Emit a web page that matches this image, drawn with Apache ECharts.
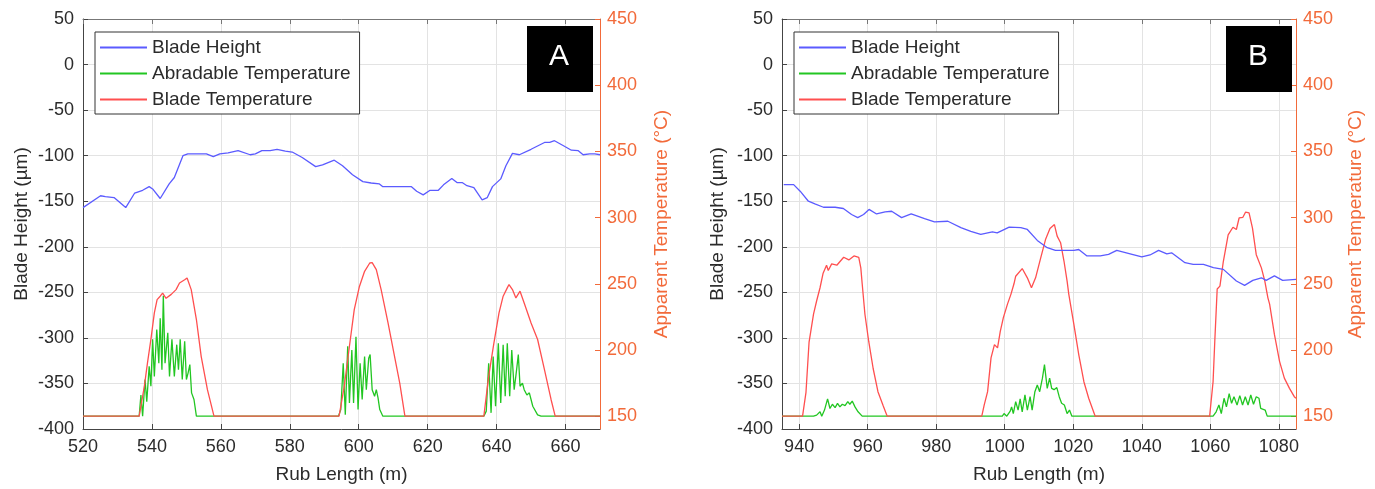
<!DOCTYPE html>
<html>
<head>
<meta charset="utf-8">
<script src="https://cdn.jsdelivr.net/npm/echarts@6/dist/echarts.min.js"></script>
<style>html,body{margin:0;padding:0;background:#fff}#c{width:1375px;height:489px}</style>
</head>
<body>
<div id="c"></div>
<script>
// ---------- Data ----------
const seriesNames = ['Blade Height', 'Abradable Temperature', 'Blade Temperature'];
const heightTicks = [-400, -350, -300, -250, -200, -150, -100, -50, 0, 50];
const tempTicks = [150, 200, 250, 300, 350, 400, 450];
const xTicksA = [520, 540, 560, 580, 600, 620, 640, 660];
const xTicksB = [940, 960, 980, 1000, 1020, 1040, 1060, 1080];

// Panel A: Blade Height (µm)
const aBladeHeight = [[520,-157],[525.1,-144],[526.5,-145],[529,-146],[532.4,-157],[535,-141],[537.3,-138],[539.2,-134],[540.2,-136.5],[542.4,-147],[545,-131],[546.5,-124],[549,-100],[550.4,-98],[555.8,-98],[557.8,-101],[559.7,-98],[562.1,-97],[565,-94.5],[568.5,-99],[570,-98],[571.9,-94.5],[574.3,-94.5],[576.3,-93],[578.7,-95],[580.7,-96],[583.6,-102],[587.5,-112],[589.5,-110],[592.9,-105],[595.3,-111],[598.2,-121],[601.2,-128.5],[603.6,-130],[606,-131],[607,-134],[615.3,-134],[616.8,-139],[618.7,-143],[620.7,-138],[623.1,-138],[624.6,-132],[627,-125],[628.5,-129.5],[630,-129.5],[631.4,-133],[633.4,-135],[635.8,-148.5],[637.3,-146],[638.8,-134],[641.2,-125.5],[642.7,-111],[644.6,-97.5],[646.6,-99],[650,-93],[653.9,-85.5],[655.4,-85.5],[656.8,-83.6],[659.8,-90],[661.7,-94],[663.7,-94.5],[665.1,-99],[667,-98],[668.5,-98],[670,-99]];
// Panel A: Abradable Temperature (°C)
const aAbradableTemp = [[520,150],[536.3,150],[536.8,166],[537.3,150],[538,177.7],[538.5,161],[539.2,187.7],[539.7,172.6],[540.2,208],[540.7,180],[541.4,215.4],[542,190],[542.4,224],[542.9,185],[543.3,241],[543.8,190],[544.6,213],[545.1,180],[545.8,208],[546.5,180],[547.2,204],[547.7,185],[548.2,208],[548.8,177.7],[549.5,206.6],[550,177.7],[550.5,182.7],[551,189],[551.5,167.6],[552.2,162.6],[552.9,150],[594.1,150],[594.8,155],[595.5,190],[596.1,151],[596.8,202.8],[597.3,160],[598,200],[598.5,160],[599.2,210],[599.8,155],[600.4,190],[601,162.6],[601.7,195],[602.2,170],[602.9,193.8],[603.3,196.5],[603.9,170],[604.6,165],[605.1,170],[605.6,163.8],[606.1,155],[607,150],[636.3,150],[637,153.8],[637.7,190],[638.4,152.5],[639,195],[639.7,157.5],[640.5,205],[641.2,160],[641.9,204],[642.5,165],[643.1,205],[643.8,165],[644.4,200],[645.1,170],[645.8,185],[646.3,196.5],[646.8,172.6],[647.5,175],[648,170],[648.8,166],[649.5,167.6],[650.5,157.5],[651.9,151],[652.9,150],[670,150]];
// Panel A: Blade Temperature (°C)
const aBladeTemp = [[520,150],[536.3,150],[537.8,172.6],[538.7,190],[539.7,208],[540.7,228],[541.5,238],[542.4,240.6],[543.1,243],[544.1,239],[545.6,242],[547,245.6],[548,250.6],[549.5,253],[550.2,254.4],[551.4,245.6],[552.9,223],[554.3,195],[556.1,170],[558,150],[594.3,150],[595.8,172.6],[597.3,202.8],[598.7,230.5],[600.2,248],[601.7,259.4],[603.2,265.7],[603.9,266],[605.1,260.7],[606.5,245.6],[608.5,220.4],[610.4,195],[611.9,175],[613.4,150],[636.3,150],[637.7,180],[639.2,205],[640.7,228],[641.9,240.6],[643.1,246.9],[643.6,249.4],[644.6,245.6],[645.6,239.3],[646.8,244.4],[648,235.5],[650,220.4],[651.9,207.9],[653.9,185],[655.8,162.6],[657,150],[670,150]];

// Panel B: Blade Height (µm)
const bBladeHeight = [[935.5,-131.8],[938.4,-131.8],[940.3,-139],[942.7,-150],[944.6,-153],[947.1,-156.6],[950.5,-156.6],[952.9,-158],[955.3,-164.6],[957.1,-168],[958.8,-164.6],[960.4,-159],[962.6,-164],[965.1,-161.7],[967,-161],[969.9,-168],[972.7,-164],[976.6,-169],[979.5,-172.6],[983.4,-172],[987.2,-179],[990.1,-183],[993,-186.5],[996.4,-183.6],[997.8,-184.7],[1001.3,-178.5],[1004.7,-179],[1006.6,-181],[1009.5,-193],[1012.4,-201],[1014.8,-204],[1020.2,-204],[1021.6,-203],[1024,-210],[1027.9,-210],[1030.3,-208.4],[1032.7,-204],[1036.6,-207.7],[1040,-211],[1042.4,-209],[1044.9,-204],[1047.3,-207.7],[1048.7,-206.6],[1052.6,-217.5],[1055,-219.4],[1058,-219.4],[1060.9,-223],[1063.8,-224.8],[1067.6,-237.6],[1070,-242.4],[1072.4,-236.9],[1074.9,-234],[1076.3,-236.9],[1078.7,-232],[1081.1,-236.9],[1085,-235.8]];
// Panel B: Abradable Temperature (°C)
const bAbradableTemp = [[935,150],[944.2,150],[945.1,150.8],[946.1,153.3],[946.6,150],[947.4,154.6],[948.3,163],[949,155.8],[949.7,159],[950.5,156.4],[951.2,159.7],[951.9,157],[952.6,159],[953.4,158],[954.2,161],[954.8,159],[955.5,161.4],[956.3,157],[957.2,153.3],[958.4,150],[999.3,150],[999.8,152],[1000.6,150],[1001.6,153.8],[1002,157],[1002.5,152],[1003.2,161],[1003.9,154.6],[1004.5,163],[1005.1,153.3],[1005.9,166],[1006.6,154.6],[1007.4,164.7],[1008,154.6],[1008.8,168.5],[1009.5,173.6],[1010.2,168.5],[1011,178.7],[1011.6,188.9],[1012.4,171],[1013.1,178.7],[1013.7,171],[1014.4,170],[1015.2,171.6],[1015.9,164.7],[1016.6,159.7],[1017.4,158.4],[1018.2,152],[1018.9,154.6],[1019.6,150],[1060.8,150],[1061.7,153.3],[1062.5,158.4],[1063.2,152],[1064,163.5],[1064.7,157],[1065.5,167],[1066.2,159.7],[1066.9,164.7],[1067.8,158.4],[1068.6,165.5],[1069.4,158.4],[1070.2,164.7],[1071,158.4],[1071.8,166],[1072.6,159],[1073.4,164.7],[1074.2,163.5],[1074.7,155.8],[1076,154.6],[1076.6,150],[1085,150]];
// Panel B: Blade Temperature (°C)
const bBladeTemp = [[935,150],[941,150],[942,168],[942.9,206],[944.2,227],[945.1,237],[946.1,247],[947,258],[948,264],[948.5,260],[949.5,265],[951,264],[953,270],[954.5,268],[956,271],[957.4,270],[958,262],[958.4,250],[959.2,227],[960.3,206.6],[961.6,186],[963,168.5],[964.5,158],[965.7,150],[993.3,150],[994,158.4],[995,168.5],[996,194],[997,204],[997.9,201.6],[998.7,214],[999.6,224.4],[1000.8,234.6],[1001.8,242],[1002.7,250],[1003.2,255.7],[1005.1,261.5],[1006.6,254.5],[1007.8,247],[1009,254.5],[1010.5,269.5],[1011.9,283.4],[1013.2,291.7],[1014.5,294.7],[1015.3,286],[1016.3,281],[1017.3,267],[1018.2,252],[1018.7,242],[1020.2,219],[1021.6,196.5],[1023.1,176],[1024.5,163.5],[1026.4,150],[1059.8,150],[1060.8,176],[1061.3,206.6],[1062,246],[1062.8,248.2],[1063.8,267],[1065.2,287],[1066.6,292.7],[1067.6,291],[1068.4,299.7],[1069.5,300.2],[1070.3,304.2],[1071.3,303.5],[1072.3,292],[1073.4,272],[1074.9,262],[1075.9,252],[1076.8,239.4],[1077.3,234.6],[1078.7,211.7],[1080.2,191.4],[1081.6,178.7],[1083.1,171],[1084.5,164.7],[1085,163.5]];

// ---------- Styling ----------
const FONT = 'Liberation Sans, Arial, sans-serif';
const TXT = '#2b2b2b';
const ORANGE = '#f26a3a';
const BLUE = '#5b5bff';
const GREEN = '#22c622';
const RED = '#ff4f4f';
const GRIDC = '#e3e3e3';
const plain = v => String(v);

function bottomX(gridIndex, min, max, ticks, useInterval) {
  const ax = {
    type: 'value', gridIndex, position: 'bottom', min, max,
    name: 'Rub Length (m)', nameLocation: 'middle', nameGap: 36,
    nameTextStyle: { color: TXT, fontSize: 19, fontFamily: FONT },
    axisLine: { show: true, onZero: false, lineStyle: { color: '#444', width: 1 } },
    axisTick: { show: true, inside: true, length: 5, lineStyle: { color: '#444' }, customValues: ticks },
    axisLabel: { color: TXT, fontSize: 18, fontFamily: FONT, margin: 9, customValues: ticks, formatter: plain },
    splitLine: { show: useInterval, lineStyle: { color: GRIDC } }
  };
  if (useInterval) ax.interval = 20;
  return ax;
}
function topX(gridIndex, min, max, ticks) {
  return {
    type: 'value', gridIndex, position: 'top', min, max,
    axisLine: { show: true, onZero: false, lineStyle: { color: '#777', width: 1 } },
    axisTick: { show: true, inside: true, length: 5, lineStyle: { color: '#777' }, customValues: ticks },
    axisLabel: { show: false },
    splitLine: { show: false }
  };
}
function leftY(gridIndex, nameGap) {
  return {
    type: 'value', gridIndex, position: 'left', min: -400, max: 50, interval: 50,
    name: 'Blade Height (µm)', nameLocation: 'middle', nameGap,
    nameTextStyle: { color: TXT, fontSize: 19, fontFamily: FONT },
    axisLine: { show: true, onZero: false, lineStyle: { color: '#444' } },
    axisTick: { show: true, inside: true, length: 5, lineStyle: { color: '#444' } },
    axisLabel: { color: TXT, fontSize: 18, fontFamily: FONT, margin: 9, formatter: plain },
    splitLine: { show: true, lineStyle: { color: GRIDC } }
  };
}
function rightY(gridIndex, nameGap) {
  return {
    type: 'value', gridIndex, position: 'right', min: 140.3, max: 450,
    name: 'Apparent Temperature (°C)', nameLocation: 'middle', nameGap,
    nameTextStyle: { color: ORANGE, fontSize: 19, fontFamily: FONT },
    axisLine: { show: true, onZero: false, lineStyle: { color: ORANGE } },
    axisTick: { show: true, inside: true, length: 5, lineStyle: { color: ORANGE }, customValues: tempTicks },
    axisLabel: { color: ORANGE, fontSize: 18, fontFamily: FONT, margin: 7, customValues: tempTicks, formatter: plain },
    splitLine: { show: false }
  };
}
function line(name, data, color, xi, yi, z) {
  return {
    name, type: 'line', data, xAxisIndex: xi, yAxisIndex: yi,
    symbol: 'none', showSymbol: false, animation: false, z,
    lineStyle: { color, width: 1.3 }, itemStyle: { color }
  };
}
function legend(left) {
  return {
    data: seriesNames, orient: 'vertical', left, top: 32, z: 20,
    padding: [6, 9, 5, 5], itemGap: 7, itemWidth: 47, itemHeight: 2, icon: 'rect',
    backgroundColor: '#fff', borderColor: '#333', borderWidth: 1,
    textStyle: { color: TXT, fontSize: 19, fontFamily: FONT },
    selectedMode: false
  };
}
function labelBox(x, text) {
  return [
    { type: 'rect', left: x, top: 26, shape: { width: 66, height: 66 }, style: { fill: '#000' }, z: 100 },
    { type: 'text', left: x + 22, top: 42, style: { text, fill: '#fff', font: '30px ' + FONT }, z: 101 }
  ];
}

const chart = echarts.init(document.getElementById('c'), null, { renderer: 'canvas' });
chart.setOption({
  animation: false,
  backgroundColor: '#fff',
  grid: [
    { left: 83, top: 19, width: 517, height: 410 },
    { left: 782, top: 19, width: 514, height: 410 }
  ],
  xAxis: [
    bottomX(0, 520, 670, xTicksA, true),
    topX(0, 520, 670, xTicksA),
    bottomX(1, 935, 1085, xTicksB, false),
    topX(1, 935, 1085, xTicksB)
  ],
  yAxis: [ leftY(0, 52), rightY(0, 52), leftY(1, 55), rightY(1, 50) ],
  legend: [ legend(95), legend(794) ],
  graphic: [ ...labelBox(527, 'A'), ...labelBox(1226, 'B') ],
  series: [
    {
      type: 'line', data: [], xAxisIndex: 2, yAxisIndex: 2, silent: true, z: 0,
      markLine: {
        silent: true, symbol: 'none', animation: false, label: { show: false }, z: 0,
        lineStyle: { color: GRIDC, type: 'solid', width: 1 },
        data: xTicksB.map(v => ({ xAxis: v }))
      }
    },
    line('Abradable Temperature', aAbradableTemp, GREEN, 0, 1, 3),
    line('Blade Temperature', aBladeTemp, RED, 0, 1, 4),
    line('Blade Height', aBladeHeight, BLUE, 0, 0, 5),
    line('Abradable Temperature', bAbradableTemp, GREEN, 2, 3, 3),
    line('Blade Temperature', bBladeTemp, RED, 2, 3, 4),
    line('Blade Height', bBladeHeight, BLUE, 2, 2, 5)
  ]
});
</script>
</body>
</html>
